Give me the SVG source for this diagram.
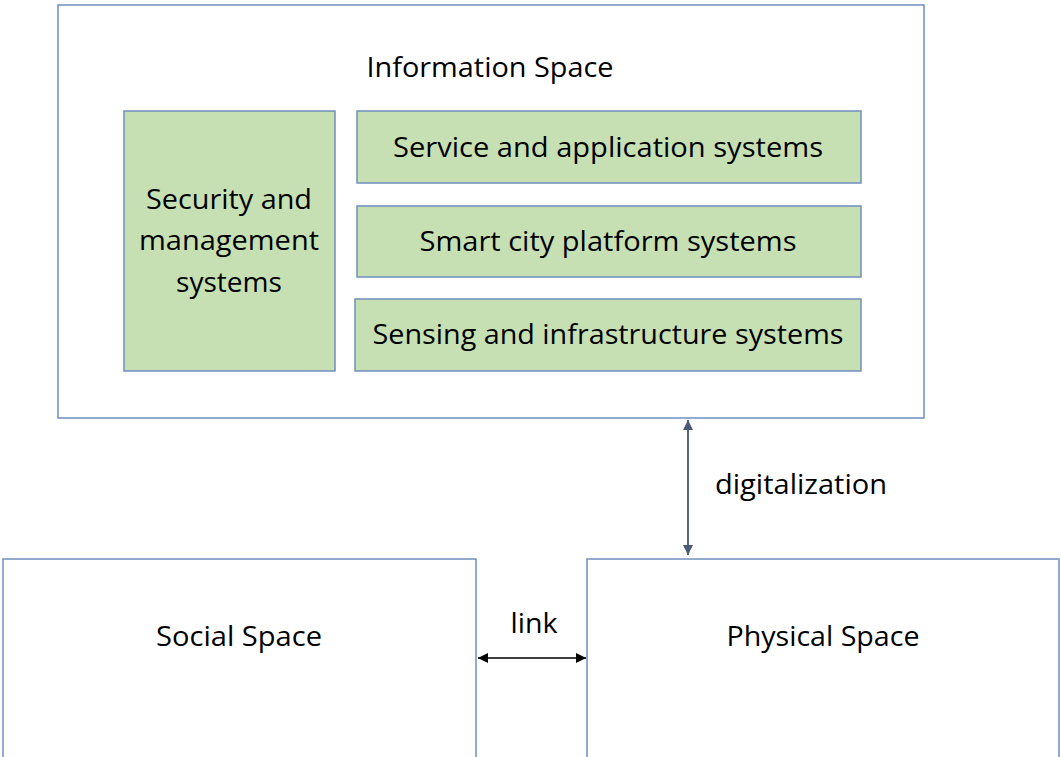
<svg xmlns="http://www.w3.org/2000/svg" width="1061" height="757" viewBox="0 0 1061 757">
<defs>
<style>
.box{fill:#ffffff;stroke:#6f8fbd;stroke-width:1.5}
.g{fill:#c6e0b4;stroke:#6f8fbd;stroke-width:1.5}
text{font-family:"Open Sans","Liberation Sans",sans-serif;font-size:27px;fill:#000;text-anchor:middle}
</style>
<marker id="ah" viewBox="0 0 10 10" refX="10" refY="5" markerWidth="10" markerHeight="11" orient="auto-start-reverse" markerUnits="userSpaceOnUse"><path d="M0,0 L10,5 L0,10 z" fill="#4a5a72"/></marker>
<marker id="ahk" viewBox="0 0 10 10" refX="10" refY="5" markerWidth="10" markerHeight="10" orient="auto-start-reverse" markerUnits="userSpaceOnUse"><path d="M0,0 L10,5 L0,10 z" fill="#000"/></marker>
</defs>
<g id="info"><rect class="box" x="58" y="5" width="866" height="413"/><text x="490" y="77" textLength="247" lengthAdjust="spacingAndGlyphs">Information Space</text></g>
<g id="security"><rect class="g" x="124" y="111" width="211" height="260"/><text x="229" y="209" textLength="166" lengthAdjust="spacingAndGlyphs">Security and</text><text x="229" y="250" textLength="180" lengthAdjust="spacingAndGlyphs">management</text><text x="229" y="292" textLength="106" lengthAdjust="spacingAndGlyphs">systems</text></g>
<g id="service"><rect class="g" x="357" y="111" width="504" height="72"/><text x="608" y="157" textLength="430" lengthAdjust="spacingAndGlyphs">Service and application systems</text></g>
<g id="smart"><rect class="g" x="357" y="206" width="504" height="71"/><text x="608" y="251" textLength="377" lengthAdjust="spacingAndGlyphs">Smart city platform systems</text></g>
<g id="sensing"><rect class="g" x="355" y="299" width="506" height="72"/><text x="608" y="344" textLength="471" lengthAdjust="spacingAndGlyphs">Sensing and infrastructure systems</text></g>
<g id="social"><rect class="box" x="3" y="559" width="473" height="210"/><text x="239" y="646" textLength="166" lengthAdjust="spacingAndGlyphs">Social Space</text></g>
<g id="physical"><rect class="box" x="587" y="559" width="472" height="210"/><text x="823" y="646" textLength="193" lengthAdjust="spacingAndGlyphs">Physical Space</text></g>
<g id="connectors">
<line x1="688" y1="420" x2="688" y2="555" stroke="#55657d" stroke-width="2" marker-start="url(#ah)" marker-end="url(#ah)"/>
<line x1="478" y1="658" x2="586" y2="658" stroke="#000" stroke-width="1.5" marker-start="url(#ahk)" marker-end="url(#ahk)"/>
<text x="801" y="494" textLength="172" lengthAdjust="spacingAndGlyphs">digitalization</text>
<text x="534" y="633" textLength="47" lengthAdjust="spacingAndGlyphs">link</text>
</g>
</svg>
